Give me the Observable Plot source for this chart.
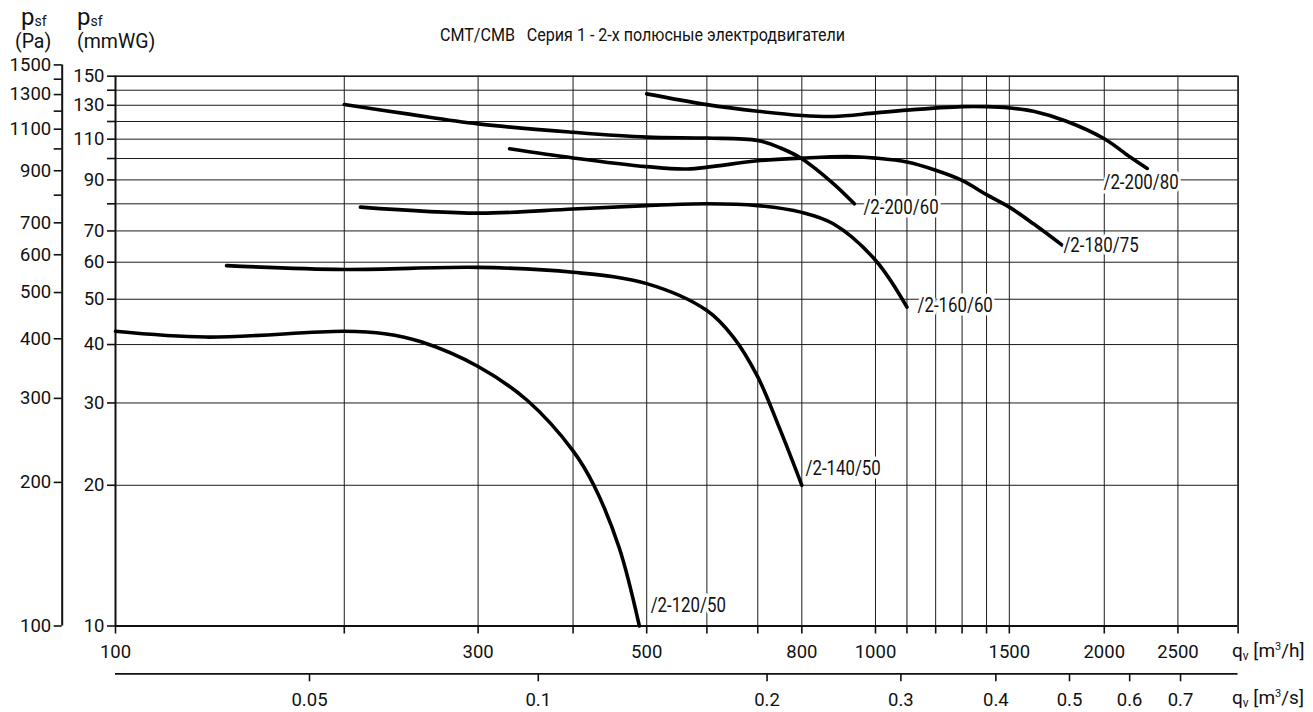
<!DOCTYPE html>
<html>
<head>
<meta charset="utf-8">
<script src="https://cdn.jsdelivr.net/npm/d3@7"></script>
<script src="https://cdn.jsdelivr.net/npm/@observablehq/plot@0.6"></script>
<style>
  html, body { margin: 0; padding: 0; background: #fff; }
  #wrap { width: 1313px; height: 712px; overflow: hidden; }
</style>
</head>
<body>
<div id="wrap"></div>
<script>
// ---------- axes / ticks ----------
const qGrid    = [100, 200, 300, 400, 500, 600, 700, 800, 1000, 1100, 1200, 1300, 1400, 1500, 2000, 2500, 3000];
const qLabels  = [100, 300, 500, 800, 1000, 1500, 2000, 2500];
const msTicks  = [0.05, 0.1, 0.2, 0.3, 0.4, 0.5, 0.6, 0.7];
const mmGrid   = [10, 20, 30, 40, 50, 60, 70, 80, 90, 100, 110, 120, 130, 140, 150];
const mmLabels = [10, 20, 30, 40, 50, 60, 70, 90, 110, 130, 150];
const paTicks  = [100, 200, 300, 400, 500, 600, 700, 800, 900, 1000, 1100, 1200, 1300, 1400, 1500];
const paLabels = [100, 200, 300, 400, 500, 600, 700, 900, 1100, 1300, 1500];

// ---------- curves (q in m3/h, p in mmWG) ----------
const names = ["/2-120/50", "/2-140/50", "/2-160/60", "/2-200/60", "/2-180/75", "/2-200/80"];

const q120_50 = [100, 131.5, 200, 226, 253, 300, 348, 400, 426, 460, 489];
const p120_50 = [42.7, 41.5, 42.7, 42.2, 40.5, 35.9, 30.4, 23.7, 20.0, 14.7, 10.0];

const q140_50 = [140, 200, 300, 400, 500, 600, 650, 700, 747, 800];
const p140_50 = [59.0, 57.9, 58.5, 57.1, 54.0, 47.3, 41.5, 34.1, 26.6, 20.0];

const q160_60 = [210, 300, 400, 500, 600, 700, 800, 880, 1000, 1100];
const p160_60 = [78.7, 76.4, 78.0, 79.3, 80.0, 79.3, 76.7, 72.5, 60.6, 48.1];

const q200_60 = [200, 242, 300, 400, 500, 600, 700, 750, 800, 880, 938];
const p200_60 = [130.5, 124.6, 118.6, 113.8, 111.1, 110.6, 109.3, 105.3, 99.9, 88.4, 80.0];

const q180_75 = [330, 400, 500, 566, 700, 800, 918, 1000, 1100, 1200, 1300, 1400, 1500, 1614, 1762];
const p180_75 = [104.9, 100.3, 96.1, 95.0, 98.9, 100.2, 101.0, 100.2, 98.3, 94.4, 89.8, 83.7, 78.7, 72.5, 65.2];

const q200_80 = [500, 600, 700, 800, 880, 1000, 1100, 1300, 1400, 1500, 1614, 1787, 2000, 2165, 2278];
const p200_80 = [137.5, 130.4, 126.2, 123.6, 123.0, 125.2, 126.9, 129.1, 129.1, 128.3, 126.2, 120.0, 110.2, 100.6, 95.2];

// label anchors (left edge / vertical middle of each curve name)
const labelQ = [506, 809, 1136, 964, 1767, 1995];
const labelP = [11.1, 21.8, 48.5, 78.6, 65.2, 88.9];

// The Pa scale on the drawing is spaced slightly wider than the mmWG scale
const paDecade = 477.1, mmDecade = 467.5;
const paToMm = P => 10 * Math.pow(P / 100, paDecade / mmDecade);
const mmToPa = m => 100 * Math.pow(m / 10, mmDecade / paDecade);

const seriesQ = [q120_50, q140_50, q160_60, q200_60, q180_75, q200_80];
const seriesP = [p120_50, p140_50, p160_60, p200_60, p180_75, p200_80];
const curveRows = names.flatMap((n, k) => seriesQ[k].map((q, i) => ({name: n, q, p: seriesP[k][i]})));
const labelRows = names.map((n, i) => ({name: n, q: labelQ[i], p: labelP[i]}));

const FONT = "Roboto, 'DejaVu Sans', sans-serif";
const GRID = "#1c1c1c";
const TICKFONT = 18.5;

const chart = Plot.plot({
  width: 1313,
  height: 712,
  marginLeft: 115,
  marginRight: 75.4,
  marginTop: 75.7,
  marginBottom: 86.5,
  style: {fontFamily: FONT, fontSize: "18px", color: "#111", background: "#fff", overflow: "visible"},
  x: {type: "log", domain: [100, 3000], label: null},
  y: {type: "log", domain: [10, 150], label: null},
  marks: [
    Plot.ruleY(mmGrid, {stroke: GRID, strokeWidth: 1}),
    Plot.ruleX(qGrid, {stroke: GRID, strokeWidth: 1}),
    Plot.ruleY([150], {stroke: GRID, strokeWidth: 1.5}),
    Plot.ruleX([3000], {stroke: GRID, strokeWidth: 1.5}),
    Plot.ruleX([100], {stroke: "#111", strokeWidth: 2}),
    Plot.ruleY([10], {stroke: "#111", strokeWidth: 2}),

    // mmWG axis
    Plot.axisY(mmGrid, {tickSize: 8, tickPadding: 3, strokeWidth: 1.6, label: null, fontSize: TICKFONT,
      tickFormat: d => mmLabels.includes(d) ? String(d) : ""}),

    // Pa axis
    Plot.ruleX([100], {y1: 10, y2: paToMm(1500), dx: -53.3, stroke: "#111", strokeWidth: 2}),
    Plot.axisY(paTicks.map(paToMm), {tickSize: 8, tickPadding: 3, dx: -53.3, strokeWidth: 1.6, label: null, fontSize: TICKFONT,
      tickFormat: d => { const P = Math.round(mmToPa(d)); return paLabels.includes(P) ? String(P) : ""; }}),

    // m3/h axis
    Plot.axisX(qGrid, {tickSize: 8, tickPadding: 11, strokeWidth: 1.6, label: null, fontSize: TICKFONT,
      tickFormat: d => qLabels.includes(d) ? String(d) : ""}),

    // m3/s axis
    Plot.ruleY([10], {dy: 47.8, stroke: "#111", strokeWidth: 1.8}),
    Plot.axisX(msTicks.map(v => v * 3600), {tickSize: 8, tickPadding: 11, dy: 47.8, strokeWidth: 1.6, label: null, fontSize: TICKFONT,
      tickFormat: d => { const v = msTicks.find(m => Math.abs(m * 3600 - d) < 1e-6); return String(v); }}),

    // fan curves
    Plot.line(curveRows, {x: "q", y: "p", z: "name", stroke: "#000", strokeWidth: 3.6,
      strokeLinecap: "round", curve: "catmull-rom"}),

    // curve names
    Plot.text(labelRows, {x: "q", y: "p", text: "name", textAnchor: "start", lineAnchor: "middle",
      fontSize: 21, fill: "#111", stroke: "#fff", strokeWidth: 7, strokeLinejoin: "round"})
  ]
});

document.getElementById("wrap").appendChild(chart);

const svg = d3.select(chart);

// condensed look for the curve names (the drawing uses a narrow typeface)
svg.selectAll('g[aria-label="text"] text').each(function () {
  const w = this.getComputedTextLength();
  d3.select(this).attr("textLength", (w * 0.8).toFixed(1)).attr("lengthAdjust", "spacingAndGlyphs");
});

// ---------- header texts ----------
function addText(x, y, parts, width) {
  const t = svg.append("text")
    .attr("x", x).attr("y", y)
    .attr("text-anchor", "start")
    .attr("fill", "#111")
    .style("text-anchor", "start")
    .style("font-family", FONT)
    .style("white-space", "pre");
  for (const [s, size, dy] of parts) {
    t.append("tspan").attr("dy", dy || 0).style("font-size", size + "px").text(s);
  }
  if (width) t.attr("textLength", width).attr("lengthAdjust", "spacingAndGlyphs");
  return t;
}

addText(21, 25, [["p", 24], ["sf", 14, 1]]);
addText(15, 48, [["(Pa)", 19.5]]);
addText(77, 25, [["p", 24], ["sf", 14, 1]]);
addText(77, 48, [["(mmWG)", 19.5]]);

addText(440, 41, [["CMT/CMB   Серия 1 - 2-х полюсные электродвигатели", 18.5]], 405);

addText(1232, 657, [["q", 19], ["v", 12, 3], [" [m", 19, -3], ["3", 11, -7], ["/h]", 19, 7]]);
addText(1232, 704, [["q", 19], ["v", 12, 3], [" [m", 19, -3], ["3", 11, -7], ["/s]", 19, 7]]);
</script>
</body>
</html>
